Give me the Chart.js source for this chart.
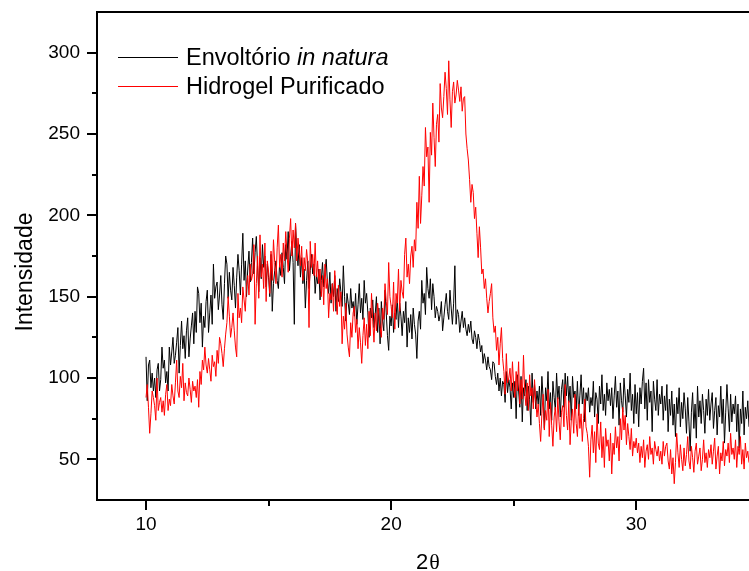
<!DOCTYPE html>
<html>
<head>
<meta charset="utf-8">
<script src="https://cdn.jsdelivr.net/npm/chart.js@4/dist/chart.umd.min.js"></script>
<style>
  html, body { margin: 0; padding: 0; background: #fff; }
  #wrap { width: 749px; height: 571px; }
</style>
</head>
<body>
<div id="wrap"><canvas id="c" width="749" height="571"></canvas></div>
<script>
// Diffractograms: scan from 10° in 0.05° steps (2θ)
const twoThetaStart = 10.0;
const twoThetaStep = 0.05;

// Envoltório in natura, one row per degree
const envoltorioInNatura = [
  113, 86, 108, 111, 94, 103, 92, 100, 88, 105, 109, 92, 99, 119, 106, 111, 97, 104, 92, 119,
  108, 116, 125, 109, 114, 122, 131, 103, 120, 135, 118, 126, 112, 129, 137, 113, 124, 132, 140, 121,
  141, 128, 156, 152, 134, 146, 119, 138, 131, 147, 154, 128, 140, 151, 133, 170, 149, 156, 159, 142,
  151, 163, 145, 136, 158, 175, 170, 149, 165, 154, 148, 168, 157, 143, 162, 176, 166, 151, 170, 189,
  160, 172, 150, 167, 178, 159, 171, 186, 164, 177, 187, 169, 153, 174, 161, 182, 168, 175, 156, 170,
  162, 150, 176, 141, 158, 166, 172, 160, 155, 170, 163, 177, 168, 158, 182, 173, 190, 166, 175, 184,
  171, 133, 195, 178, 169, 182, 162, 174, 158, 167, 143, 160, 172, 155, 166, 176, 164, 170, 152, 163,
  158, 167, 148, 160, 171, 156, 165, 173, 159, 152, 165, 146, 158, 150, 163, 141, 155, 147, 161, 153,
  144, 169, 150, 135, 152, 146, 139, 155, 143, 147, 138, 152, 133, 145, 158, 140, 149, 136, 160, 146,
  152, 140, 125, 143, 137, 148, 131, 139, 150, 128, 143, 121, 147, 135, 129, 154, 140, 126, 117, 138,
  132, 145, 128, 140, 136, 150, 131, 146, 138, 126, 141, 134, 147, 119, 137, 128, 139, 124, 143, 133,
  127, 112, 135, 141, 130, 160, 146, 152, 139, 168, 155, 149, 161, 142, 158, 150, 137, 144, 141, 135,
  139, 147, 129, 137, 145, 152, 141, 136, 154, 143, 133, 146, 169, 133, 142, 139, 128, 135, 141, 131,
  137, 130, 126, 133, 128, 135, 124, 121, 129, 125, 118, 127, 123, 116, 120, 109, 115, 111, 105, 113,
  107, 105, 99, 110, 109, 101, 96, 103, 92, 100, 89, 98, 96, 85, 104, 91, 99, 94, 81, 97,
  88, 98, 75, 102, 92, 82, 101, 73, 94, 89, 99, 80, 95, 87, 71, 103, 85, 96, 81, 92,
  84, 95, 77, 101, 88, 69, 94, 86, 104, 81, 91, 74, 98, 88, 80, 103, 87, 95, 76, 93,
  99, 82, 103, 89, 101, 85, 95, 74, 101, 88, 92, 81, 98, 77, 89, 102, 84, 94, 73, 91,
  86, 94, 79, 88, 83, 98, 76, 91, 87, 72, 95, 84, 102, 80, 90, 77, 97, 86, 93, 83,
  94, 75, 89, 101, 82, 92, 71, 97, 86, 79, 100, 89, 76, 93, 85, 103, 80, 90, 72, 96,
  78, 91, 70, 94, 84, 98, 106, 81, 97, 74, 99, 85, 92, 67, 98, 87, 80, 99, 77, 90,
  84, 95, 74, 89, 80, 96, 67, 87, 77, 92, 71, 84, 64, 88, 78, 94, 70, 85, 75, 91,
  81, 66, 88, 73, 55, 79, 91, 69, 84, 63, 95, 76, 86, 72, 90, 80, 66, 87, 77, 93,
  74, 84, 91, 69, 80, 88, 65, 83, 76, 95, 72, 87, 60, 79, 96, 81, 67, 90, 73, 84,
  78, 89, 67, 84, 57, 81, 72, 92, 65, 82, 75, 86, 70, 79, 60, 85, 77, 88, 71, 81
];

// Hidrogel Purificado, one row per degree
const hidrogelPurificado = [
  88, 96, 82, 66, 78, 92, 88, 83, 74, 100, 80, 85, 88, 79, 86, 77, 90, 96, 80, 87,
  83, 96, 89, 84, 97, 111, 92, 88, 101, 94, 109, 86, 97, 91, 89, 100, 93, 85, 98, 92,
  95, 88, 99, 82, 104, 96, 111, 105, 119, 108, 103, 112, 105, 98, 114, 107, 110, 101, 117, 109,
  125, 121, 115, 107, 118, 127, 134, 150, 138, 125, 131, 140, 129, 119, 113, 152, 137, 143, 134, 156,
  148, 141, 157, 163, 151, 170, 160, 164, 182, 133, 158, 175, 149, 188, 162, 170, 155, 183, 147, 172,
  165, 152, 178, 160, 185, 171, 158, 180, 194, 168, 176, 162, 183, 172, 190, 177, 165, 186, 198, 175,
  191, 180, 195, 172, 186, 178, 169, 181, 160, 174, 166, 179, 171, 131, 184, 168, 176, 163, 183, 162,
  172, 158, 167, 150, 163, 145, 170, 155, 161, 137, 152, 148, 158, 141, 166, 150, 139, 157, 144, 153,
  121, 138, 130, 146, 127, 119, 113, 134, 125, 140, 144, 128, 136, 118, 131, 122, 109, 126, 137, 120,
  133, 118, 141, 126, 152, 135, 122, 140, 129, 146, 138, 131, 125, 143, 136, 158, 147, 139, 171, 150,
  144, 137, 159, 130, 152, 146, 167, 141, 160, 153, 149, 176, 186, 162, 170, 158, 175, 181, 168, 185,
  178, 208, 192, 224, 195, 212, 230, 218, 254, 236, 242, 208, 251, 237, 269, 248, 230, 256, 262, 245,
  281, 266, 260, 273, 288, 278, 262, 295, 271, 254, 276, 282, 269, 274, 283, 277, 270, 279, 264, 272,
  273, 250, 241, 234, 222, 208, 219, 214, 198, 205, 189, 174, 193, 180, 164, 167, 155, 161, 149, 140,
  147, 152, 158, 137, 128, 132, 117, 125, 108, 121, 131, 112, 104, 90, 115, 97, 100, 106, 92, 110,
  95, 88, 104, 92, 110, 84, 99, 87, 114, 91, 83, 97, 80, 102, 89, 94, 81, 99, 86, 76,
  84, 72, 61, 78, 90, 68, 80, 74, 93, 64, 85, 71, 58, 76, 82, 67, 88, 73, 62, 79,
  83, 70, 96, 77, 68, 86, 59, 74, 81, 66, 90, 72, 64, 84, 69, 78, 61, 75, 87, 70,
  66, 58, 39, 62, 71, 54, 67, 48, 78, 60, 56, 73, 51, 64, 45, 69, 58, 62, 49, 66,
  41, 60, 53, 70, 57, 64, 49, 75, 62, 82, 68, 77, 59, 72, 64, 56, 69, 52, 61, 57,
  63, 54, 60, 48, 58, 51, 62, 45, 55, 59, 50, 64, 53, 57, 47, 61, 56, 52, 58, 49,
  55, 47, 61, 52, 58, 60, 49, 44, 56, 41, 51, 35, 48, 66, 54, 45, 59, 50, 43, 57,
  46, 53, 64, 49, 44, 58, 51, 42, 55, 60, 47, 52, 57, 43, 50, 62, 48, 54, 45, 56,
  51, 59, 47, 55, 63, 44, 52, 58, 41, 54, 49, 61, 46, 56, 52, 60, 48, 66, 53, 57,
  50, 62, 45, 58, 53, 64, 47, 56, 44, 60, 51, 55, 48, 59, 46, 57, 52, 61, 49, 54
];

const xTickLabels = [10, 20, 30];
const xMinorTicks = [15, 25];
const yTickLabels = [50, 100, 150, 200, 250, 300];
const yMinorTicks = [75, 125, 175, 225, 275];

const seriesNames = ['Envoltório ', 'in natura', 'Hidrogel Purificado'];
const axisTitleY = 'Intensidade';
const axisTitleX = ['2', 'θ'];

const SANS = "'Liberation Sans', Arial, Helvetica, sans-serif";
const SERIF = "'Liberation Serif', 'Times New Roman', serif";

function toPoints(values) {
  return values.map((v, i) => ({ x: +(twoThetaStart + i * twoThetaStep).toFixed(2), y: v }));
}

// Origin-style frame: axis lines, outward ticks, axis titles and the legend box
const originFrame = {
  id: 'originFrame',
  afterDatasetsDraw(chart) {
    const { ctx, chartArea: a, scales } = chart;
    const sx = scales.x, sy = scales.y;
    ctx.save();
    ctx.strokeStyle = '#000';
    ctx.lineWidth = 2;
    ctx.beginPath();
    ctx.moveTo(a.left - 1, a.top); ctx.lineTo(a.right, a.top);
    ctx.moveTo(a.left, a.top); ctx.lineTo(a.left, a.bottom + 1);
    ctx.moveTo(a.left - 1, a.bottom); ctx.lineTo(a.right, a.bottom);
    ctx.stroke();

    ctx.beginPath();
    yTickLabels.forEach(v => { const p = Math.round(sy.getPixelForValue(v)); ctx.moveTo(a.left - 10, p); ctx.lineTo(a.left, p); });
    yMinorTicks.forEach(v => { const p = Math.round(sy.getPixelForValue(v)); ctx.moveTo(a.left - 5, p); ctx.lineTo(a.left, p); });
    xTickLabels.forEach(v => { const p = Math.round(sx.getPixelForValue(v)); ctx.moveTo(p, a.bottom); ctx.lineTo(p, a.bottom + 10); });
    xMinorTicks.forEach(v => { const p = Math.round(sx.getPixelForValue(v)); ctx.moveTo(p, a.bottom); ctx.lineTo(p, a.bottom + 6); });
    ctx.stroke();
    ctx.restore();
  },
  afterDraw(chart) {
    const { ctx } = chart;
    const ds = chart.data.datasets;
    ctx.save();
    ctx.fillStyle = '#000';

    // y axis title
    ctx.save();
    ctx.translate(32, 272);
    ctx.rotate(-Math.PI / 2);
    ctx.font = '23px ' + SANS;
    ctx.textAlign = 'center';
    ctx.textBaseline = 'alphabetic';
    ctx.fillText(axisTitleY, 0, 0);
    ctx.restore();

    // x axis title: digit in sans, theta in serif
    ctx.textAlign = 'left';
    ctx.textBaseline = 'alphabetic';
    ctx.font = '22px ' + SANS;
    const w2 = ctx.measureText(axisTitleX[0]).width;
    ctx.font = '22px ' + SERIF;
    const wt = ctx.measureText(axisTitleX[1]).width;
    const x0 = 427.5 - (w2 + wt) / 2;
    ctx.font = '22px ' + SANS;
    ctx.fillText(axisTitleX[0], x0, 569);
    ctx.font = '22px ' + SERIF;
    ctx.fillText(axisTitleX[1], x0 + w2 + 1, 569);

    // legend
    const rows = [
      { color: ds[0].borderColor, y: 57.5, base: 65 },
      { color: ds[1].borderColor, y: 86.5, base: 94 }
    ];
    rows.forEach(r => {
      ctx.strokeStyle = r.color;
      ctx.lineWidth = 1;
      ctx.beginPath();
      ctx.moveTo(118, r.y); ctx.lineTo(178, r.y);
      ctx.stroke();
    });
    ctx.fillStyle = '#000';
    ctx.font = '23.5px ' + SANS;
    ctx.fillText(seriesNames[0], 186, rows[0].base);
    const wa = ctx.measureText(seriesNames[0]).width;
    ctx.font = 'italic 23.5px ' + SANS;
    ctx.fillText(seriesNames[1], 186 + wa, rows[0].base);
    ctx.font = '23.5px ' + SANS;
    ctx.fillText(seriesNames[2], 186, rows[1].base);
    ctx.restore();
  }
};

new Chart(document.getElementById('c'), {
  type: 'line',
  data: {
    datasets: [
      {
        label: seriesNames[0] + seriesNames[1],
        data: toPoints(envoltorioInNatura),
        borderColor: '#000000',
        borderWidth: 1,
        pointRadius: 0,
        tension: 0,
        fill: false,
        order: 1
      },
      {
        label: seriesNames[2],
        data: toPoints(hidrogelPurificado),
        borderColor: '#ff0000',
        borderWidth: 1,
        pointRadius: 0,
        tension: 0,
        fill: false,
        order: 0
      }
    ]
  },
  options: {
    responsive: false,
    devicePixelRatio: 1,
    animation: false,
    events: [],
    layout: { padding: { top: 12, right: 0, bottom: 0, left: 0 } },
    plugins: { legend: { display: false }, tooltip: { enabled: false }, title: { display: false } },
    scales: {
      x: {
        type: 'linear',
        min: 8,
        max: 34.6,
        grid: { display: false, drawTicks: false },
        border: { display: false },
        ticks: { color: '#000', padding: 13, font: { size: 19, family: SANS }, maxRotation: 0 },
        afterBuildTicks: s => { s.ticks = xTickLabels.map(v => ({ value: v })); },
        afterFit: s => { s.height = 71; s.paddingLeft = 0; s.paddingRight = 0; }
      },
      y: {
        type: 'linear',
        min: 25,
        max: 325,
        grid: { display: false, drawTicks: false },
        border: { display: false },
        ticks: { color: '#000', padding: 17, font: { size: 19, family: SANS } },
        afterBuildTicks: s => { s.ticks = yTickLabels.map(v => ({ value: v })); },
        afterFit: s => { s.width = 97; s.paddingTop = 0; s.paddingBottom = 0; }
      }
    }
  },
  plugins: [originFrame]
});
</script>
</body>
</html>
